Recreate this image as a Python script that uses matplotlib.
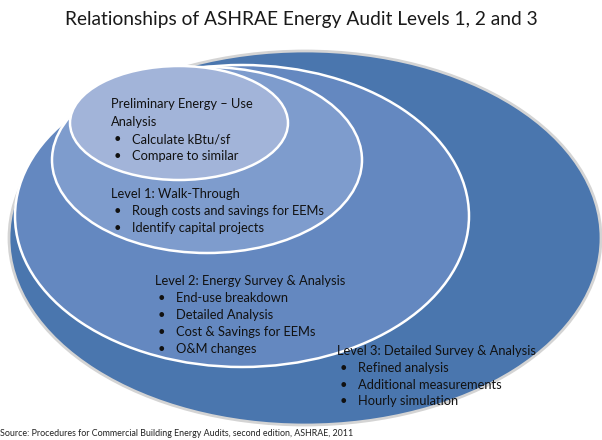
import matplotlib
matplotlib.use("Agg")
import matplotlib.pyplot as plt
from matplotlib.patches import Ellipse

# ---- content ----
title = "Relationships of ASHRAE Energy Audit Levels 1, 2 and 3"
source = "Source: Procedures for Commercial Building Energy Audits, second edition, ASHRAE, 2011"

prelim_head = ["Preliminary Energy \u2013 Use", "Analysis"]
prelim_items = ["Calculate kBtu/sf", "Compare to similar"]
level1_head = ["Level 1: Walk-Through"]
level1_items = ["Rough costs and savings for EEMs", "Identify capital projects"]
level2_head = ["Level 2: Energy Survey & Analysis"]
level2_items = ["End-use breakdown", "Detailed Analysis", "Cost & Savings for EEMs", "O&M changes"]
level3_head = ["Level 3: Detailed Survey & Analysis"]
level3_items = ["Refined analysis", "Additional measurements", "Hourly simulation"]

W, H = 602, 440
fig = plt.figure(figsize=(W / 100, H / 100), dpi=100)
ax = fig.add_axes([0, 0, 1, 1])
ax.set_xlim(0, W)
ax.set_ylim(H, 0)
ax.axis("off")

FONT = "Lato"

# ellipses: (cx, cy, w, h, face, edge, lw)
ellipses = [
    (305, 238, 592, 374, "#4a76ae", "#d4d4d4", 2.0),
    (242, 216, 454, 302, "#6488c0", "white", 1.8),
    (207, 160, 310, 186, "#7e9ccd", "white", 1.8),
    (179, 123, 218, 114, "#a2b4d9", "white", 1.8),
]
for cx, cy, w, h, fc, ec, lw in ellipses:
    ax.add_patch(Ellipse((cx, cy), w, h, facecolor=fc, edgecolor=ec, lw=lw, zorder=2))

ax.text(301, 20, title, ha="center", va="center", fontsize=13.8, family=FONT, color="#1a1a1a")

TS = 9.3
TC = "#111111"


def block(x, y0, dy, heads, items, bullet_dx=3, text_dx=21):
    y = y0
    for h_ in heads:
        ax.text(x, y, h_, ha="left", va="center", fontsize=TS, family=FONT, color=TC, zorder=5)
        y += dy
    for it in items:
        ax.text(x + bullet_dx, y, "\u2022", ha="left", va="center", fontsize=TS, family=FONT, color=TC, zorder=5)
        ax.text(x + text_dx, y, it, ha="left", va="center", fontsize=TS, family=FONT, color=TC, zorder=5)
        y += dy


block(111, 104, 17.5, prelim_head, prelim_items)
block(111, 194, 17, level1_head, level1_items)
block(155, 281, 17, level2_head, level2_items)
block(337, 351, 16.8, level3_head, level3_items)

ax.text(0, 434, source, ha="left", va="center", fontsize=6.4, family=FONT, color="#222222")

fig.savefig("out.png", dpi=100)
